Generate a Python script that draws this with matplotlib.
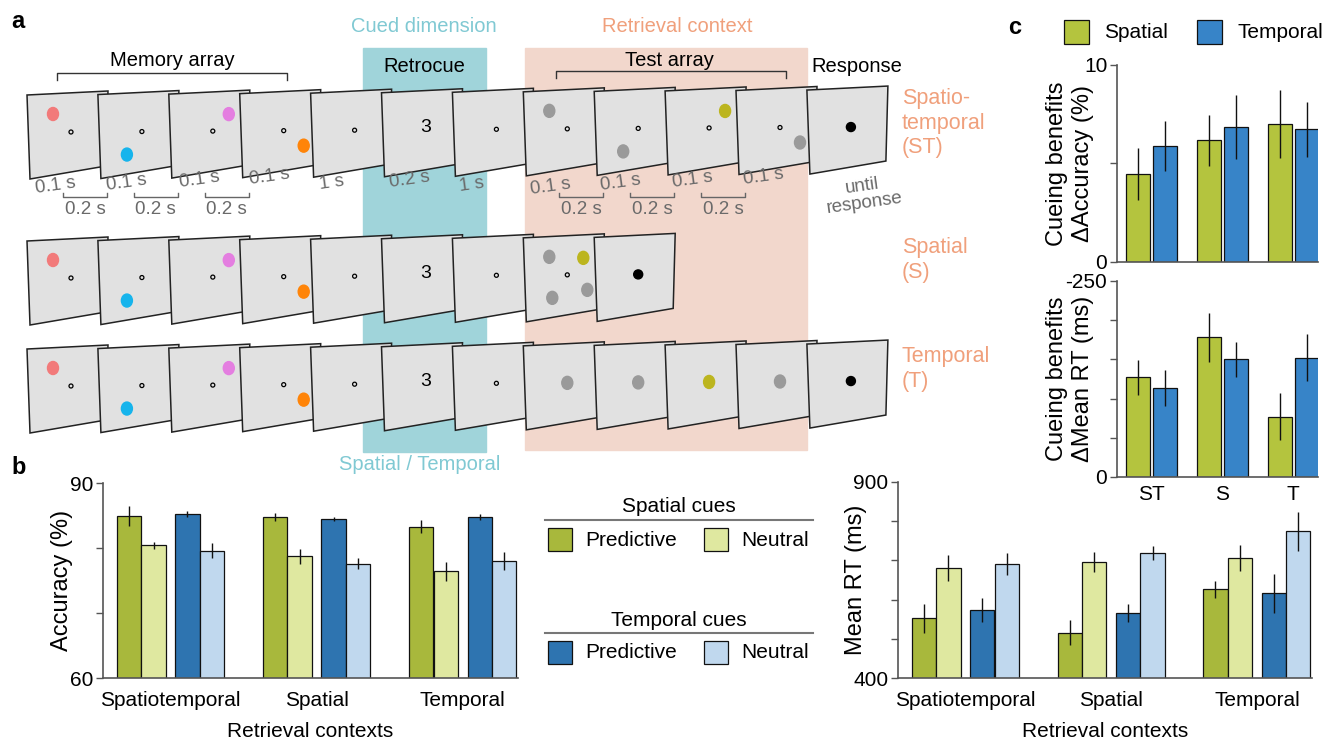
import numpy as np
import matplotlib
matplotlib.use('Agg')
import matplotlib.pyplot as plt
from matplotlib.patches import Polygon, Ellipse, Rectangle, Circle

plt.rcParams['font.family'] = ['Liberation Sans', 'DejaVu Sans']

W, H = 1326, 740

# ---- data ----
contexts = ['Spatiotemporal', 'Spatial', 'Temporal']
short_contexts = ['ST', 'S', 'T']
cue_conditions = ['Spatial predictive', 'Spatial neutral', 'Temporal predictive', 'Temporal neutral']

acc_mean = [[84.9, 80.4, 85.2, 79.6],
            [84.8, 78.7, 84.5, 77.6],
            [83.3, 76.4, 84.8, 78.0]]
acc_err = [[1.5, 0.5, 0.5, 1.2],
           [0.6, 1.1, 0.3, 0.8],
           [1.0, 1.4, 0.5, 1.4]]

rt_mean = [[553, 681, 574, 692],
           [516, 696, 566, 718],
           [626, 706, 616, 774]]
rt_err = [[37, 33, 31, 28],
          [33, 25, 24, 18],
          [22, 34, 50, 50]]

benefit_acc = {'Spatial': [4.47, 6.18, 6.99], 'Temporal': [5.89, 6.85, 6.73]}
benefit_acc_err = {'Spatial': [1.31, 1.29, 1.73], 'Temporal': [1.25, 1.63, 1.38]}
benefit_rt = {'Spatial': [-127, -178, -77], 'Temporal': [-114, -150, -152]}
benefit_rt_err = {'Spatial': [22, 31, 30], 'Temporal': [23, 22, 30]}

durations = ['0.1 s', '0.1 s', '0.1 s', '0.1 s', '1 s', '0.2 s', '1 s',
             '0.1 s', '0.1 s', '0.1 s', '0.1 s', 'until\nresponse']
isi_label = '0.2 s'
memory_colors = ['#f27a7a', '#16b4ec', '#e47ee0', '#ff8408']
memory_pos = [(-18, -18), (-15, 23), (16, -17), (20, 15)]
probe_index = 2  # the item that is tested (olive)

bar_colors = ['#a8b83c', '#dfe8a0', '#2e74b0', '#c0d8ee']
c_colors = {'Spatial': '#b4c43e', 'Temporal': '#3784c8'}
cyan_box, cyan_txt = '#a0d4da', '#80c9d3'
salmon_box, salmon_txt = '#f2d7cc', '#f0a07c'

fig = plt.figure(figsize=(W / 100, H / 100), dpi=100)
ax0 = fig.add_axes([0, 0, 1, 1])
ax0.set_xlim(0, W)
ax0.set_ylim(H, 0)
ax0.axis('off')


def px_axes(l, t, r, b):
    return fig.add_axes([l / W, 1 - b / H, (r - l) / W, (b - t) / H], facecolor='none')


# ---- panel a: schematic ----
ax0.add_patch(Rectangle((363, 48), 123, 404, color=cyan_box, zorder=0))
ax0.add_patch(Rectangle((525, 48), 282, 402, color=salmon_box, zorder=0))
ax0.text(424, 27, 'Cued dimension', color=cyan_txt, fontsize=14.5, ha='center', va='center')
ax0.text(677, 27, 'Retrieval context', color=salmon_txt, fontsize=14.5, ha='center', va='center')
ax0.text(420, 465, 'Spatial / Temporal', color=cyan_txt, fontsize=14.5, ha='center', va='center')

ax0.text(172, 60, 'Memory array', fontsize=14.5, ha='center', va='center')
ax0.plot([57, 57, 287, 287], [80, 73, 73, 80], color='#333333', lw=1)
ax0.text(669, 60, 'Test array', fontsize=14.5, ha='center', va='center')
ax0.plot([556, 556, 786, 786], [78, 71, 71, 78], color='#333333', lw=1)
ax0.text(424, 67, 'Retrocue', fontsize=14.5, ha='center', va='center')
ax0.text(857, 67, 'Response', fontsize=14.5, ha='center', va='center')

ax0.text(902, 123, 'Spatio-\ntemporal\n(ST)', color=salmon_txt, fontsize=15.5,
         ha='left', va='center', linespacing=1.2)
ax0.text(902, 260, 'Spatial\n(S)', color=salmon_txt, fontsize=15.5,
         ha='left', va='center', linespacing=1.2)
ax0.text(902, 369, 'Temporal\n(T)', color=salmon_txt, fontsize=15.5,
         ha='left', va='center', linespacing=1.2)

frame_shape = np.array([[0, 0], [81, -4], [79, 71], [3, 84]])
step = 70.9


def frame_tl(i, y0):
    return 27 + i * step, y0 - 0.45 * i


def draw_frame(x, y, kind):
    ax0.add_patch(Polygon(frame_shape + [x, y], closed=True, fc='#e1e1e1',
                          ec='#222222', lw=1.1, zorder=2))
    cx, cy = x + 44, y + 37
    fix = True
    if kind[0] == 'mem':
        k = kind[1]
        dx, dy = memory_pos[k]
        ax0.add_patch(Ellipse((cx + dx, cy + dy), 11, 13, color=memory_colors[k], zorder=3))
    elif kind[0] == 'cue':
        ax0.text(cx, cy - 2, '3', fontsize=14, ha='center', va='center', zorder=3)
        fix = False
    elif kind[0] == 'test_st':
        k = kind[1]
        dx, dy = memory_pos[k]
        col = '#bcb51e' if k == probe_index else '#9a9a9a'
        ax0.add_patch(Ellipse((cx + dx, cy + dy), 11, 13, color=col, zorder=3))
    elif kind[0] == 'test_s':
        for k, (dx, dy) in enumerate(memory_pos):
            col = '#bcb51e' if k == probe_index else '#9a9a9a'
            ax0.add_patch(Ellipse((cx + dx, cy + dy), 11, 13, color=col, zorder=3))
    elif kind[0] == 'test_t':
        k = kind[1]
        col = '#bcb51e' if k == probe_index else '#9a9a9a'
        ax0.add_patch(Ellipse((cx, cy), 11, 13, color=col, zorder=3))
        fix = False
    elif kind[0] == 'resp':
        ax0.add_patch(Circle((cx, cy), 4.5, color='black', zorder=3))
        fix = False
    if fix:
        ax0.add_patch(Circle((cx, cy), 2, fc='none', ec='black', lw=0.9, zorder=3))


common = [('mem', 0), ('mem', 1), ('mem', 2), ('mem', 3), ('fix',), ('cue',), ('fix',)]
rows = [
    (95, common + [('test_st', 0), ('test_st', 1), ('test_st', 2), ('test_st', 3), ('resp',)]),
    (241, common + [('test_s',), ('resp',)]),
    (349, common + [('test_t', 0), ('test_t', 1), ('test_t', 2), ('test_t', 3), ('resp',)]),
]
for y0, kinds in rows:
    for i, kind in enumerate(kinds):
        x, y = frame_tl(i, y0)
        draw_frame(x, y, kind)

# timing labels (first row)
lab_dx = [28.5, 28.7, 31, 30, 21, 28.5, 19, 27.5, 26, 27.5, 27, 56]
lab_y = [186, 183, 180, 177, 183, 180, 185, 187, 183, 180, 177, 195]
for i, txt in enumerate(durations):
    x, _ = frame_tl(i, 95)
    ax0.text(x + lab_dx[i], lab_y[i], txt, color='#6a6a6a', fontsize=13.5,
             ha='center', va='center', rotation=8, rotation_mode='anchor',
             linespacing=1.0, zorder=4)
for i in [0, 1, 2, 7, 8, 9]:
    xa, _ = frame_tl(i, 95)
    xb, _ = frame_tl(i + 1, 95)
    x1, x2 = xa + 36, xb + 9
    ax0.plot([x1, x1, x2, x2], [193, 197, 197, 193], color='#666666', lw=1, zorder=4)
    ax0.text((x1 + x2) / 2, 209, isi_label, color='#6a6a6a', fontsize=13.5,
             ha='center', va='center', zorder=4)

# panel letters
ax0.text(11, 22, 'a', fontsize=17, fontweight='bold', va='center')
ax0.text(11, 468, 'b', fontsize=17, fontweight='bold', va='center')
ax0.text(1008, 27, 'c', fontsize=17, fontweight='bold', va='center')


# ---- panel b ----
def style_axes(ax, xpad):
    for s in ['top', 'right']:
        ax.spines[s].set_visible(False)
    for s in ['left', 'bottom']:
        ax.spines[s].set_color('#555555')
        ax.spines[s].set_linewidth(1.2)
    ax.tick_params(axis='y', length=5, width=1, color='#555555', labelsize=15, pad=2)
    ax.tick_params(axis='x', length=0, labelsize=15, pad=xpad)


offsets = [-0.284, -0.116, 0.116, 0.284]
bw = 0.167
groups = np.arange(len(contexts))


def grouped(ax, means, errs):
    means = np.array(means)
    errs = np.array(errs)
    for j in range(4):
        ax.bar(groups + offsets[j], means[:, j], bw, color=bar_colors[j],
               edgecolor='#111111', linewidth=0.9, zorder=2)
        ax.errorbar(groups + offsets[j], means[:, j], yerr=errs[:, j], fmt='none',
                    ecolor='#111111', elinewidth=1, capsize=0, zorder=3)
    ax.set_xticks(groups)
    ax.set_xticklabels(contexts)
    ax.set_xlim(-0.462, 2.378)
    ax.set_xlabel('Retrieval contexts', fontsize=15, labelpad=8.5)
    style_axes(ax, 9.5)


axb1 = px_axes(103, 483, 518, 678)
grouped(axb1, acc_mean, acc_err)
axb1.set_ylim(60, 90)
axb1.set_yticks([60, 70, 80, 90])
axb1.set_yticklabels(['60', '', '', '90'])
axb1.set_ylabel('Accuracy (%)', fontsize=17)
axb1.yaxis.set_label_coords(-0.072, 0.5)

axb2 = px_axes(898, 482, 1312, 678)
grouped(axb2, rt_mean, rt_err)
axb2.set_ylim(400, 900)
axb2.set_yticks(np.arange(400, 901, 100))
axb2.set_yticklabels(['400', '', '', '', '', '900'])
axb2.set_ylabel('Mean RT (ms)', fontsize=17)
axb2.yaxis.set_label_coords(-0.075, 0.5)

# legend for panel b
for ty, label in [(507, 'Spatial cues'), (620, 'Temporal cues')]:
    ax0.text(679, ty, label, fontsize=15, ha='center', va='center')
    ax0.plot([545, 813], [ty + 13, ty + 13], color='#777777', lw=1.5)
leg_items = [(528, 0, 'Predictive', 548), (528, 1, 'Neutral', 704),
             (641, 2, 'Predictive', 548), (641, 3, 'Neutral', 704)]
for y, j, label, x in leg_items:
    ax0.add_patch(Rectangle((x, y), 24, 23, fc=bar_colors[j], ec='#111111', lw=0.9))
    ax0.text(x + 37, y + 12, label, fontsize=15, ha='left', va='center')

# ---- panel c ----
c_off = {'Spatial': -0.19, 'Temporal': 0.19}
c_bw = 0.34


def cbars(ax, vals, errs):
    for name in ['Spatial', 'Temporal']:
        ax.bar(groups + c_off[name], vals[name], c_bw, color=c_colors[name],
               edgecolor='#111111', linewidth=0.9, zorder=2)
        ax.errorbar(groups + c_off[name], vals[name], yerr=errs[name], fmt='none',
                    ecolor='#111111', elinewidth=1, capsize=0, zorder=3)
    ax.set_xlim(-0.48, 2.35)
    ax.set_xticks(groups)
    style_axes(ax, 6)


axc1 = px_axes(1117, 65, 1318, 262)
cbars(axc1, benefit_acc, benefit_acc_err)
axc1.set_ylim(0, 10)
axc1.set_yticks([0, 5, 10])
axc1.set_yticklabels(['0', '', '10'])
axc1.set_xticklabels([])
axc1.set_ylabel('Cueing benefits\n\u0394Accuracy (%)', fontsize=17, linespacing=1.25)
axc1.yaxis.set_label_coords(-0.115, 0.5)

axc2 = px_axes(1117, 281, 1318, 477)
cbars(axc2, benefit_rt, benefit_rt_err)
axc2.set_ylim(0, -250)
axc2.set_yticks(np.arange(0, -251, -50))
axc2.set_yticklabels(['0', '', '', '', '', '-250'])
axc2.set_xticklabels(short_contexts)
axc2.set_ylabel('Cueing benefits\n\u0394Mean RT (ms)', fontsize=17, linespacing=1.25)
axc2.yaxis.set_label_coords(-0.115, 0.5)

for x, name in [(1064, 'Spatial'), (1197, 'Temporal')]:
    ax0.add_patch(Rectangle((x, 20), 25, 24, fc=c_colors[name], ec='#111111', lw=0.9))
    ax0.text(x + 40, 32, name, fontsize=15, ha='left', va='center')

fig.savefig('out.png', dpi=100)
